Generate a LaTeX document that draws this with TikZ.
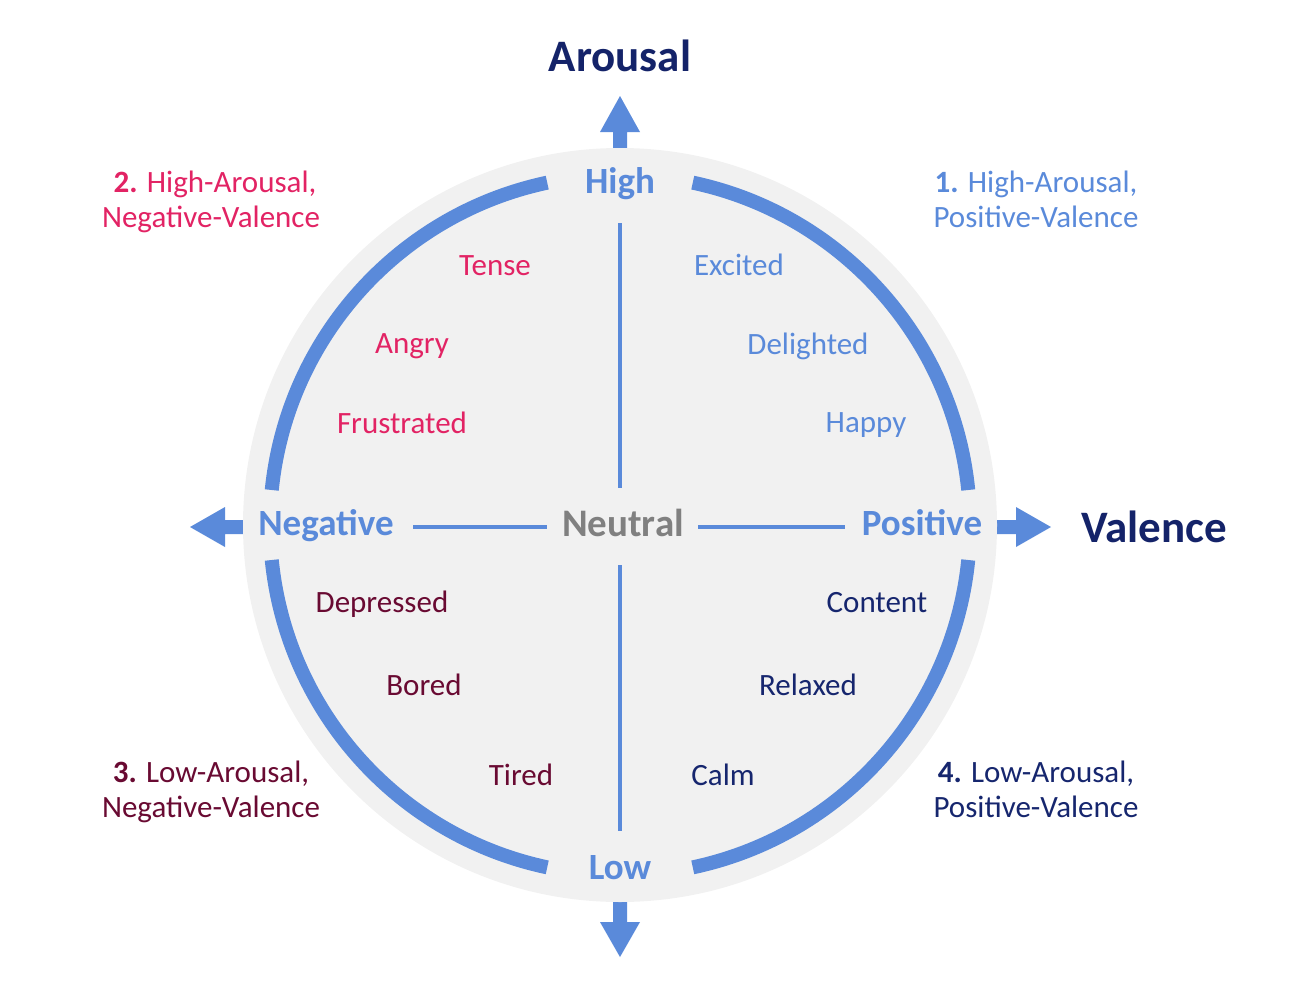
\documentclass[tikz,border=0pt]{standalone}
\usepackage{fontspec}
\setmainfont{Carlito}
\definecolor{ringblue}{RGB}{90,138,218}
\definecolor{titlenavy}{RGB}{20,35,105}
\definecolor{qpink}{RGB}{226,35,100}
\definecolor{qmaroon}{RGB}{105,10,50}
\definecolor{qnavy}{RGB}{22,38,110}
\definecolor{neutralgray}{RGB}{128,128,128}
\definecolor{discgray}{RGB}{241,241,241}
\newcommand{\fs}[1]{\fontsize{#1}{#1}\selectfont}
\begin{document}
\begin{tikzpicture}[x=1pt,y=-1pt,
  lbl/.style={inner sep=0pt,anchor=base},
  axislbl/.style={lbl,font=\fs{37}\bfseries,text=ringblue},
  title/.style={lbl,font=\fs{45}\bfseries,text=titlenavy},
  word/.style={lbl,font=\fs{31}},
  quad/.style={lbl,font=\fs{31}},
  ring/.style={draw=ringblue,line width=14pt},
  axisline/.style={draw=ringblue,line width=3.5pt},
  bigarrow/.style={fill=ringblue,draw=none}]
\useasboundingbox (0,0) rectangle (1302,991);
\coordinate (c) at (620,525);
% arrows (under the disc)
\fill[bigarrow] (613,155)--(613,132)--(600,132)--(620,96)--(640,132)--(627,132)--(627,155)--cycle;
\fill[bigarrow] (613,895)--(613,922)--(600,922)--(620,957)--(640,922)--(627,922)--(627,895)--cycle;
\fill[bigarrow] (255,520)--(225,520)--(225,507)--(190,527)--(225,547)--(225,534)--(255,534)--cycle;
\fill[bigarrow] (985,520)--(1016,520)--(1016,507)--(1051,527)--(1016,547)--(1016,534)--(985,534)--cycle;
% disc
\fill[discgray] (c) circle[radius=377];
% ring segments
\draw[ring] ([shift={(5.74:350)}]c) arc[start angle=5.74,end angle=78,radius=350];
\draw[ring] ([shift={(102:350)}]c) arc[start angle=102,end angle=174.26,radius=350];
\draw[ring] ([shift={(185.74:350)}]c) arc[start angle=185.74,end angle=258,radius=350];
\draw[ring] ([shift={(282:350)}]c) arc[start angle=282,end angle=354.26,radius=350];
% axis lines
\coordinate (vt1) at (620,223); \coordinate (vt2) at (620,488);
\coordinate (vb1) at (620,565); \coordinate (vb2) at (620,831);
\coordinate (hl1) at (413,527); \coordinate (hl2) at (547,527);
\coordinate (hr1) at (698,527); \coordinate (hr2) at (845,527);
\draw[axisline] (vt1)--(vt2);
\draw[axisline] (vb1)--(vb2);
\draw[axisline] (hl1)--(hl2);
\draw[axisline] (hr1)--(hr2);
% titles
\node[title] (arousal) at (620,71) {Arousal};
\node[title] (valence) at (1154,542) {Valence};
% axis labels
\node[axislbl] (high) at (620,193) {High};
\node[axislbl] (low) at (620,879) {Low};
\node[axislbl] (neg) at (326,535) {Negative};
\node[axislbl] (pos) at (922,535) {Positive};
\node[lbl,font=\fs{39}\bfseries,text=neutralgray] (neutral) at (623,536) {Neutral};
% quadrant labels
\node[quad,text=ringblue] (q1a) at (1036,192) {\textbf{1.} High-Arousal,};
\node[quad,text=ringblue] (q1b) at (1036,227) {Positive-Valence};
\node[quad,text=qpink] (q2a) at (215,192) {\textbf{2.} High-Arousal,};
\node[quad,text=qpink] (q2b) at (211,227) {Negative-Valence};
\node[quad,text=qmaroon] (q3a) at (211,782) {\textbf{3.} Low-Arousal,};
\node[quad,text=qmaroon] (q3b) at (211,817) {Negative-Valence};
\node[quad,text=qnavy] (q4a) at (1036,782) {\textbf{4.} Low-Arousal,};
\node[quad,text=qnavy] (q4b) at (1036,817) {Positive-Valence};
% emotion words
\node[word,text=qpink] (tense) at (495,275) {Tense};
\node[word,text=qpink] (angry) at (412,353) {Angry};
\node[word,text=qpink] (frustrated) at (402,433) {Frustrated};
\node[word,text=ringblue] (excited) at (739,275) {Excited};
\node[word,text=ringblue] (delighted) at (808,354) {Delighted};
\node[word,text=ringblue] (happy) at (866,432) {Happy};
\node[word,text=qmaroon] (depressed) at (382,612) {Depressed};
\node[word,text=qmaroon] (bored) at (424,695) {Bored};
\node[word,text=qmaroon] (tired) at (521,785) {Tired};
\node[word,text=qnavy] (content) at (877,612) {Content};
\node[word,text=qnavy] (relaxed) at (808,695) {Relaxed};
\node[word,text=qnavy] (calm) at (723,785) {Calm};
\end{tikzpicture}
\end{document}
